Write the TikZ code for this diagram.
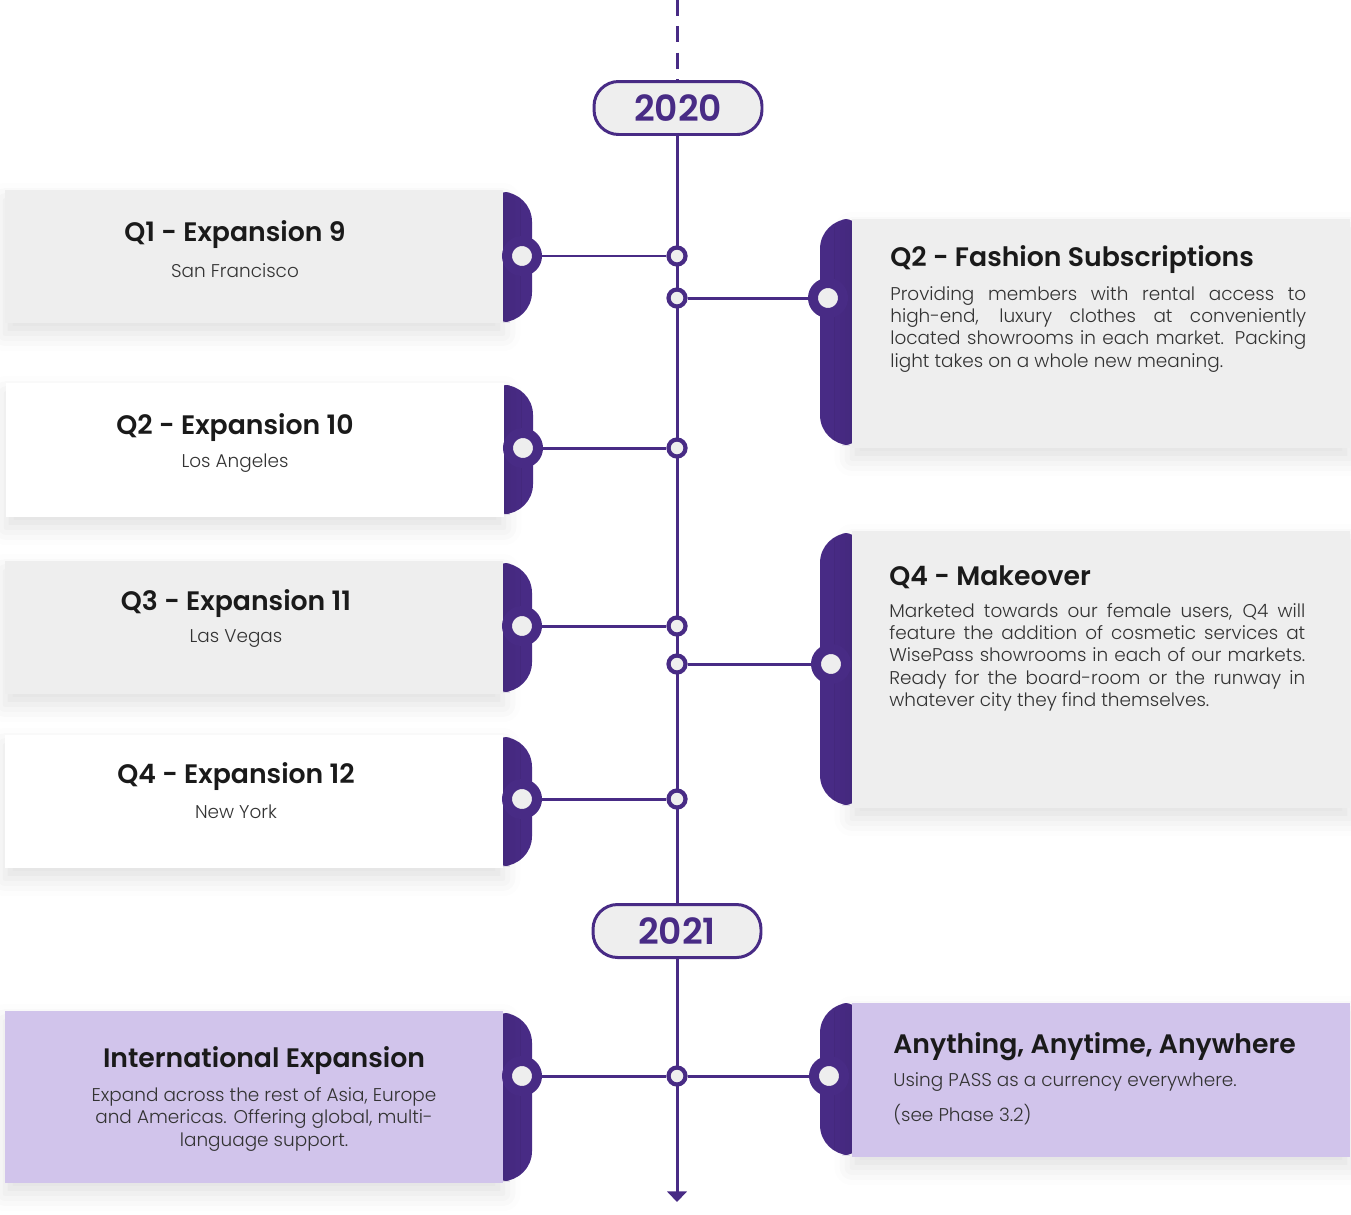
\documentclass[tikz,border=0pt]{standalone}
\usepackage{fontspec}
\setmainfont{Poppins}[UprightFont=* Light, BoldFont=* SemiBold]
\usetikzlibrary{calc,positioning,arrows.meta,shadows.blur}
\definecolor{purp}{HTML}{482B85}
\definecolor{cardgray}{HTML}{EEEEEE}
\definecolor{lilac}{HTML}{D1C4EB}
\definecolor{ink}{HTML}{1A1A1A}
\definecolor{body}{HTML}{333333}

\begin{document}
\begin{tikzpicture}[x=0.02cm, y=-0.02cm,
  card/.style = {minimum width=9.96cm, inner sep=0,
    blur shadow={shadow xshift=0pt, shadow yshift=-6pt, shadow opacity=12, shadow blur radius=10pt}},
  tab/.style = {fill=purp, rounded corners=17pt},
  knob/.style = {circle, draw=purp, fill=cardgray, line width=0.2cm, minimum size=0.6cm, inner sep=0},
  dot/.style = {circle, draw=purp, fill=cardgray, line width=2.4pt, minimum size=0.34cm, inner sep=0},
  year/.style = {draw=purp, fill=cardgray, line width=1.7pt, rounded corners=14pt,
    minimum width=3.36cm, minimum height=1.06cm, text=purp, font=\fontsize{20.5}{24}\selectfont\bfseries},
  title/.style = {text=ink, inner sep=0, font=\fontsize{15.2}{18}\selectfont\bfseries},
  sub/.style = {text=body, inner sep=0, font=\fontsize{10.5}{12.8}\selectfont},
  txt/.style = {text=body, inner sep=0, text width=8.32cm, align=justify, font=\fontsize{10.5}{12.7}\selectfont},
  link/.style = {draw=purp, line width=1.7pt}]
  \useasboundingbox (0,0) rectangle (1351,1214);

  % years and the time line
  \node[year] (y1) at (678,108) {2020};
  \node[year] (y2) at (677,931) {2021};
  \coordinate (top) at (677,0);
  \coordinate (end) at (677,1202);
  \draw[link, dash pattern=on 9pt off 6pt] (top) -- (y1.north -| top);
  \draw[link] (y1.south -| top) -- (y2.north);
  \draw[link, -{Triangle[width=11pt,length=6pt]}] (y2.south) -- (end);

  % left cards
  \fill[tab] (480,192) rectangle (532,322);
  \node[card, fill=cardgray, minimum height=2.66cm] (c1) at (254,256.5) {};
  \fill[tab] (480,385) rectangle (533,514);
  \node[card, fill=white, minimum height=2.68cm] (c2) at (255,450) {};
  \fill[tab] (480,563) rectangle (532,692);
  \node[card, fill=cardgray, minimum height=2.66cm] (c3) at (254,627.5) {};
  \fill[tab] (480,737) rectangle (532,866);
  \node[card, fill=white, minimum height=2.66cm] (c4) at (254,801.5) {};
  \fill[tab] (480,1013) rectangle (532,1181);
  \node[card, fill=lilac, minimum height=3.44cm] (c5) at (254,1097) {};

  % right cards
  \fill[tab] (820,219) rectangle (872,445);
  \node[card, fill=cardgray, minimum height=4.58cm] (r1) at (1101,333.5) {};
  \fill[tab] (820,533) rectangle (872,805);
  \node[card, fill=cardgray, minimum height=5.54cm] (r2) at (1101,669.5) {};
  \fill[tab] (820,1003) rectangle (872,1155);
  \node[card, fill=lilac, minimum height=3.08cm] (r3) at (1101,1080) {};

  % texts
  \node[title] (t1) at (235,235) {Q1 - Expansion 9};
  \node[sub] at (235,271) {San Francisco};
  \node[title] (t2) at (235,428) {Q2 - Expansion 10};
  \node[sub] at (235,463) {Los Angeles};
  \node[title] (t3) at (236,604) {Q3 - Expansion 11};
  \node[sub] at (236,639) {Las Vegas};
  \node[title] (t4) at (236,777) {Q4 - Expansion 12};
  \node[sub] at (236,812) {New York};
  \node[title] (t5) at (264,1061) {International Expansion};
  \node[sub, align=center] at (264,1119) {Expand across the rest of Asia, Europe\\and Americas. Offering global, multi-\\language support.};

  \node[title, anchor=west] (s1) at (890,260) {Q2 - Fashion Subscriptions};
  \node[txt, anchor=north west] at (890,286) {Providing members with rental access to\linebreak
    high-end, luxury clothes at conveniently\linebreak located showrooms in each market. Packing\linebreak
    light takes on a whole new meaning.};
  \node[title, anchor=west] (s2) at (889,577) {Q4 - Makeover};
  \node[txt, anchor=north west] at (889,603) {Marketed towards our female users, Q4 will\linebreak
    feature the addition of cosmetic services at\linebreak WisePass showrooms in each of our markets.\linebreak
    Ready for the board-room or the runway in\linebreak whatever city they find themselves.};
  \node[title, anchor=west] (s3) at (893,1047) {Anything, Anytime, Anywhere};
  \node[sub, anchor=west] at (893,1082) {Using PASS as a currency everywhere.};
  \node[sub, anchor=west] at (893,1115) {(see Phase 3.2)};

  % dots on the line
  \node[dot] (d1) at (677,256) {};
  \node[dot] (d2) at (677,298) {};
  \node[dot] (d3) at (677,448) {};
  \node[dot] (d4) at (677,626) {};
  \node[dot] (d5) at (677,664) {};
  \node[dot] (d6) at (677,799) {};
  \node[dot] (d7) at (677,1076) {};

  % knobs
  \node[knob] (k1) at (522,256) {};
  \node[knob] (k2) at (523,448) {};
  \node[knob] (k3) at (522,626) {};
  \node[knob] (k4) at (522,799) {};
  \node[knob] (k5) at (522,1076) {};
  \node[knob] (k6) at (828,298) {};
  \node[knob] (k7) at (831,664) {};
  \node[knob] (k8) at (829,1076) {};

  % connectors
  \draw[link] (k1) -- (d1);
  \draw[link] (k2) -- (d3);
  \draw[link] (k3) -- (d4);
  \draw[link] (k4) -- (d6);
  \draw[link] (k5) -- (d7);
  \draw[link] (d2) -- (k6);
  \draw[link] (d5) -- (k7);
  \draw[link] (d7) -- (k8);
\end{tikzpicture}
\end{document}
